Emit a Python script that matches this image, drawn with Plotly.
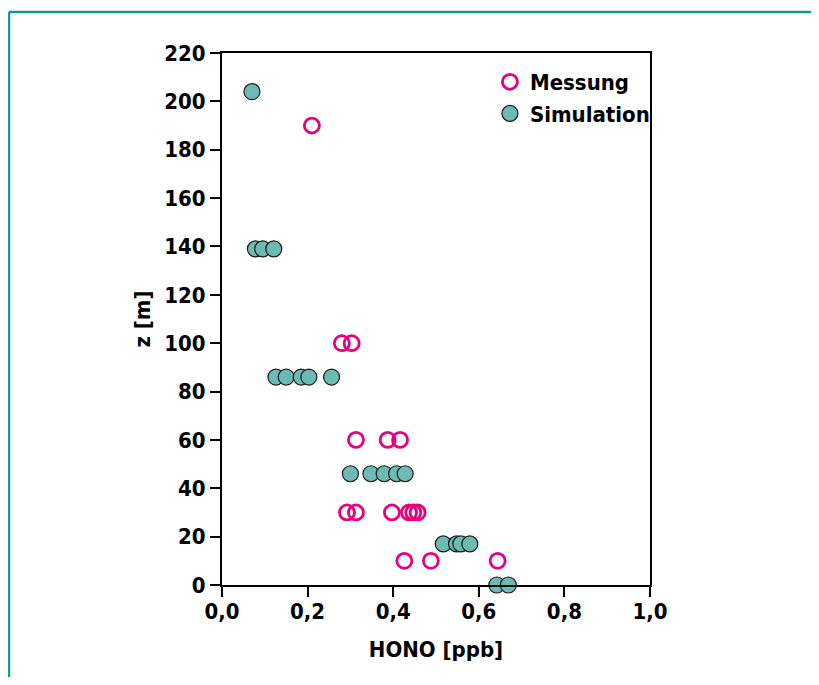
import plotly.graph_objects as go

# Messung (measured)
mess_x = [0.210, 0.280, 0.303, 0.313, 0.387, 0.416, 0.292, 0.313, 0.397, 0.437, 0.447, 0.457, 0.426, 0.488, 0.644]
mess_z = [190, 100, 100, 60, 60, 60, 30, 30, 30, 30, 30, 30, 10, 10, 10]

# Simulation
sim_x = [0.070, 0.078, 0.095, 0.121, 0.126, 0.150, 0.185, 0.203, 0.256,
         0.300, 0.348, 0.379, 0.408, 0.428, 0.517, 0.548, 0.558, 0.579, 0.642, 0.669]
sim_z = [204, 139, 139, 139, 86, 86, 86, 86, 86,
         46, 46, 46, 46, 46, 17, 17, 17, 17, 0, 0]

x_ticks = [0, 0.2, 0.4, 0.6, 0.8, 1.0]
y_ticks = list(range(0, 221, 20))

FONT = "DejaVu Sans Condensed, DejaVu Sans, sans-serif"
FS = 22

# page body has an 8px margin: compensate so the plot area lands at x 222..650, y 53..585
OFF = 8
L, T = 222 - OFF, 53 - OFF
PW, PH = 428, 532
W, H = 819 - OFF, 685 - 2 * OFF

fig = go.Figure()
fig.add_trace(go.Scatter(
    x=mess_x, y=mess_z, mode="markers", name="Messung",
    marker=dict(symbol="circle-open", size=15, color="#E6007E", line=dict(width=2.8, color="#E6007E")),
    cliponaxis=False,
))
fig.add_trace(go.Scatter(
    x=sim_x, y=sim_z, mode="markers", name="Simulation",
    marker=dict(symbol="circle", size=16, color="#6BBAB3", line=dict(width=1.2, color="#1a1a1a")),
    cliponaxis=False,
))

axis_common = dict(
    showline=True, linewidth=2, linecolor="black", mirror=True,
    ticks="outside", ticklen=10, tickwidth=2, tickcolor="black",
    showgrid=False, zeroline=False,
    tickfont=dict(family=FONT, size=FS, color="black", weight="bold"),
)

fig.update_xaxes(range=[0, 1], tickvals=x_ticks, tickformat=".1f", ticklabelstandoff=-4,
                 title=dict(text="HONO [ppb]", font=dict(family=FONT, size=FS, color="black", weight="bold"), standoff=18),
                 **axis_common)
fig.update_yaxes(range=[0, 220], tickvals=y_ticks,
                 title=dict(text="z [m]", font=dict(family=FONT, size=FS, color="black", weight="bold"), standoff=8),
                 **axis_common)

frame_x0 = (1 - L) / PW
frame_x1 = (W + 4 - L) / PW
frame_y1 = (T + PH - 4) / PH
frame_y0 = (T + PH - H - 4) / PH
fig.update_layout(
    width=W, height=H,
    margin=dict(l=L, r=W - L - PW, t=T, b=H - T - PH, autoexpand=False),
    paper_bgcolor="white", plot_bgcolor="white",
    separators=",.",
    font=dict(family=FONT, size=FS, color="black", weight="bold"),
    showlegend=True,
    legend=dict(x=0.626, y=0.985, xanchor="left", yanchor="top",
                bgcolor="rgba(0,0,0,0)", borderwidth=0,
                font=dict(family=FONT, size=FS, color="black", weight="bold"),
                itemsizing="trace", tracegroupgap=0),
    shapes=[
        dict(type="line", xref="paper", yref="paper", x0=frame_x0, x1=frame_x1, y0=frame_y1, y1=frame_y1,
             line=dict(color="#119A8E", width=2.5), layer="below"),
        dict(type="line", xref="paper", yref="paper", x0=frame_x0, x1=frame_x0, y0=frame_y0, y1=frame_y1,
             line=dict(color="#119A8E", width=2.5), layer="below"),
    ],
)

fig.write_html("out.html")
